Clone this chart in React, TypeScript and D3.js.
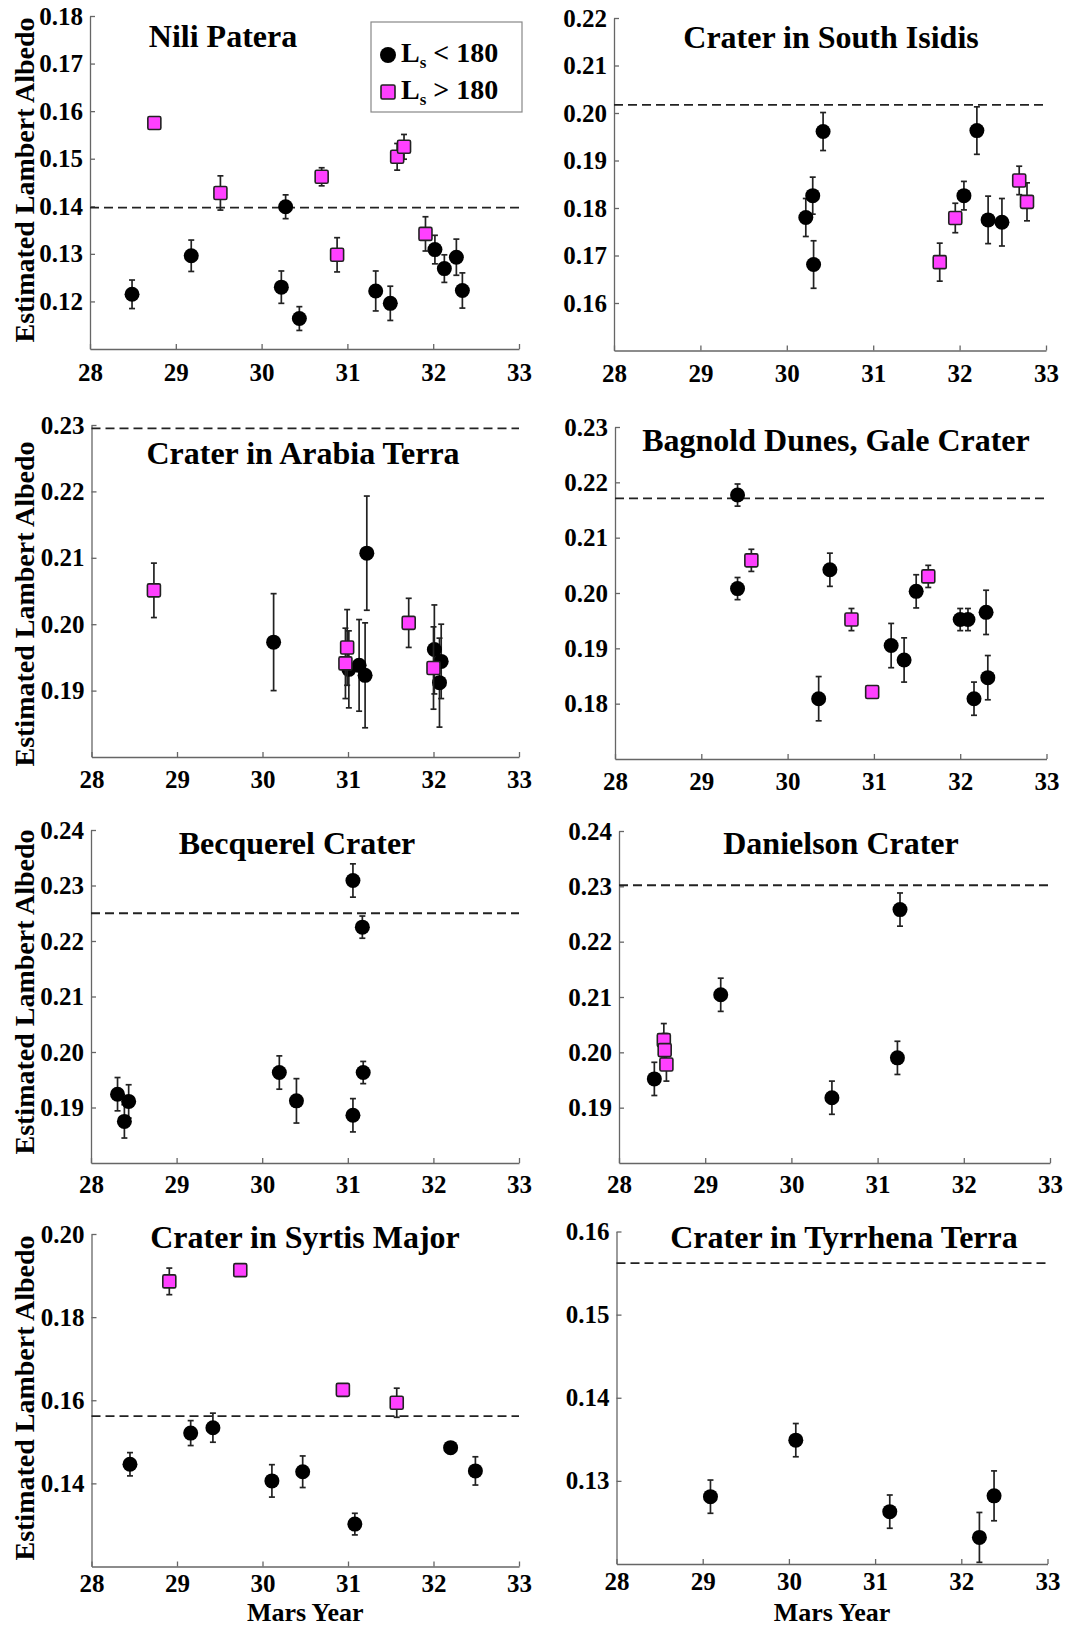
import React, { useEffect, useRef } from "react";
import * as d3 from "d3";

type Pt = [number, number, number]; // [mars year, albedo, error]

const FONT = "'Liberation Serif', 'Times New Roman', serif";

const years = [28, 29, 30, 31, 32, 33];

// Nili Patera
const niliLow: Pt[] = [
  [28.49, 0.1215, 0.003],
  [29.18, 0.1296, 0.0033],
  [30.23, 0.123, 0.0034],
  [30.28, 0.1399, 0.0025],
  [30.44, 0.1164, 0.0025],
  [31.33, 0.1222, 0.0042],
  [31.5, 0.1196, 0.0036],
  [32.02, 0.1309, 0.003],
  [32.13, 0.1269, 0.0029],
  [32.27, 0.1293, 0.0038],
  [32.34, 0.1223, 0.0037],
];
const niliHigh: Pt[] = [
  [28.75, 0.1575, 0.0008],
  [29.52, 0.1428, 0.0036],
  [30.7, 0.1462, 0.0019],
  [30.88, 0.1298, 0.0036],
  [31.58, 0.1504, 0.0028],
  [31.66, 0.1525, 0.0026],
  [31.91, 0.1342, 0.0036],
];

// Crater in South Isidis
const isidisLow: Pt[] = [
  [30.22, 0.178, 0.004],
  [30.3, 0.1826, 0.0039],
  [30.31, 0.1681, 0.005],
  [30.42, 0.1961, 0.004],
  [32.05, 0.1826, 0.003],
  [32.2, 0.1963, 0.005],
  [32.33, 0.1775, 0.005],
  [32.49, 0.177, 0.005],
];
const isidisHigh: Pt[] = [
  [31.77, 0.1686, 0.004],
  [31.95, 0.1779, 0.0031],
  [32.69, 0.1858, 0.003],
  [32.78, 0.1813, 0.004],
];

// Crater in Arabia Terra
const arabiaLow: Pt[] = [
  [30.13, 0.1973, 0.0073],
  [31.01, 0.1932, 0.0058],
  [31.13, 0.1938, 0.0069],
  [31.2, 0.1923, 0.0079],
  [31.22, 0.2107, 0.0086],
  [32.01, 0.1962, 0.0067],
  [32.09, 0.1944, 0.0056],
  [32.07, 0.1912, 0.0067],
];
const arabiaHigh: Pt[] = [
  [28.73, 0.2051, 0.0041],
  [30.99, 0.1965, 0.0057],
  [30.97, 0.1941, 0.0053],
  [31.71, 0.2002, 0.0037],
  [32.0, 0.1934, 0.0062],
];

// Bagnold Dunes, Gale Crater
const bagnoldLow: Pt[] = [
  [29.42, 0.2177, 0.002],
  [29.42, 0.2008, 0.002],
  [30.36, 0.1809, 0.004],
  [30.49, 0.2042, 0.003],
  [31.2, 0.1905, 0.004],
  [31.35, 0.1879, 0.004],
  [31.49, 0.2003, 0.003],
  [32.0, 0.1952, 0.002],
  [32.09, 0.1952, 0.002],
  [32.16, 0.1809, 0.003],
  [32.3, 0.1965, 0.004],
  [32.32, 0.1847, 0.004],
];
const bagnoldHigh: Pt[] = [
  [29.58, 0.2059, 0.002],
  [30.74, 0.1952, 0.002],
  [30.98, 0.1821, 0.0004],
  [31.63, 0.203, 0.002],
];

// Becquerel Crater
const becquerelLow: Pt[] = [
  [28.31, 0.1924, 0.003],
  [28.44, 0.1911, 0.003],
  [28.39, 0.1875, 0.003],
  [30.2, 0.1963, 0.003],
  [30.4, 0.1912, 0.004],
  [31.06, 0.1886, 0.003],
  [31.06, 0.2309, 0.003],
  [31.17, 0.2225, 0.002],
  [31.18, 0.1963, 0.002],
];
const becquerelHigh: Pt[] = [];

// Danielson Crater
const danielsonLow: Pt[] = [
  [28.41, 0.1952, 0.003],
  [29.18, 0.2104, 0.003],
  [30.47, 0.1918, 0.003],
  [31.23, 0.199, 0.003],
  [31.26, 0.2258, 0.003],
];
const danielsonHigh: Pt[] = [
  [28.52, 0.2022, 0.003],
  [28.53, 0.2004, 0.003],
  [28.55, 0.1978, 0.003],
];

// Crater in Syrtis Major
const syrtisLow: Pt[] = [
  [28.45, 0.1446, 0.0028],
  [29.16, 0.1521, 0.003],
  [29.42, 0.1534, 0.0035],
  [30.11, 0.1406, 0.0039],
  [30.47, 0.1428, 0.0038],
  [31.08, 0.1302, 0.0026],
  [32.2, 0.1486, 0.0005],
  [32.49, 0.143, 0.0034],
];
const syrtisHigh: Pt[] = [
  [28.91, 0.1886, 0.0032],
  [29.74, 0.1913, 0.0005],
  [30.94, 0.1625, 0.0005],
  [31.57, 0.1594, 0.0035],
];

// Crater in Tyrrhena Terra
const tyrrhenaLow: Pt[] = [
  [29.09, 0.1281, 0.002],
  [30.08, 0.1349, 0.002],
  [31.17, 0.1263, 0.002],
  [32.21, 0.1232, 0.003],
  [32.38, 0.1282, 0.003],
];
const tyrrhenaHigh: Pt[] = [];

const titles = [
  "Nili Patera",
  "Crater in South Isidis",
  "Crater in Arabia Terra",
  "Bagnold Dunes, Gale Crater",
  "Becquerel Crater",
  "Danielson Crater",
  "Crater in Syrtis Major",
  "Crater in Tyrrhena Terra",
];
const lowSeries = [niliLow, isidisLow, arabiaLow, bagnoldLow, becquerelLow, danielsonLow, syrtisLow, tyrrhenaLow];
const highSeries = [niliHigh, isidisHigh, arabiaHigh, bagnoldHigh, becquerelHigh, danielsonHigh, syrtisHigh, tyrrhenaHigh];
const refLevels = [0.1397, 0.2017, 0.2295, 0.2171, 0.225, 0.2302, 0.1562, 0.1562];
const yDomains = [
  [0.11, 0.18],
  [0.15, 0.22],
  [0.18, 0.23],
  [0.17, 0.23],
  [0.18, 0.24],
  [0.18, 0.24],
  [0.12, 0.2],
  [0.12, 0.16],
];
const yTicks = [
  [0.12, 0.13, 0.14, 0.15, 0.16, 0.17, 0.18],
  [0.16, 0.17, 0.18, 0.19, 0.2, 0.21, 0.22],
  [0.19, 0.2, 0.21, 0.22, 0.23],
  [0.18, 0.19, 0.2, 0.21, 0.22, 0.23],
  [0.19, 0.2, 0.21, 0.22, 0.23, 0.24],
  [0.19, 0.2, 0.21, 0.22, 0.23, 0.24],
  [0.14, 0.16, 0.18, 0.2],
  [0.13, 0.14, 0.15, 0.16],
];

// pixel layout of each panel
const layout = [
  { left: 90, right: 519, top: 16, bottom: 349, tx: 223, ty: 47, ly: 180, xPad: 14 },
  { left: 614, right: 1046, top: 18, bottom: 350.5, tx: 831, ty: 48, ly: 0, xPad: 14 },
  { left: 91.5, right: 519, top: 425, bottom: 757, tx: 303, ty: 464, ly: 604, xPad: 13 },
  { left: 615, right: 1046.5, top: 427, bottom: 759, tx: 836, ty: 451, ly: 0, xPad: 13 },
  { left: 91, right: 519, top: 830, bottom: 1163, tx: 297, ty: 854, ly: 992, xPad: 12 },
  { left: 619, right: 1050, top: 831, bottom: 1163, tx: 841, ty: 854, ly: 0, xPad: 12 },
  { left: 91.5, right: 519, top: 1234, bottom: 1566.5, tx: 305, ty: 1248, ly: 1398, xPad: 8 },
  { left: 616.5, right: 1047.5, top: 1231.5, bottom: 1564, tx: 844, ty: 1248, ly: 0, xPad: 8 },
];

const MAGENTA = "#ff40ff";

const Chart = () => {
  const chartEl = useRef<SVGSVGElement>(null);

  useEffect(() => {
    const svg = d3.select(chartEl.current);
    svg.selectAll("*").remove();

    titles.forEach((title, i) => {
      const L = layout[i];
      const x = d3.scaleLinear().domain([28, 33]).range([L.left, L.right]);
      const y = d3.scaleLinear().domain(yDomains[i]).range([L.bottom, L.top]);
      const g = svg.append("g");

      const xa = g
        .append("g")
        .attr("transform", "translate(0," + L.bottom + ")")
        .call(
          d3
            .axisBottom(x)
            .tickValues(years)
            .tickFormat(d3.format("d"))
            .tickSizeInner(-5)
            .tickSizeOuter(0)
            .tickPadding(L.xPad)
        );
      const ya = g
        .append("g")
        .attr("transform", "translate(" + L.left + ",0)")
        .call(
          d3
            .axisLeft(y)
            .tickValues(yTicks[i])
            .tickFormat(d3.format(".2f"))
            .tickSizeInner(-5)
            .tickSizeOuter(0)
            .tickPadding(7)
        );
      [xa, ya].forEach((a) => {
        a.attr("font-family", FONT).attr("font-size", 25).attr("font-weight", "bold");
        a.selectAll("path.domain").attr("stroke", "#666").attr("stroke-width", 1.3);
        a.selectAll("line").attr("stroke", "#666").attr("stroke-width", 1.3);
        a.selectAll("text").attr("fill", "#000");
      });

      // reference level
      g.append("line")
        .attr("x1", x(28))
        .attr("x2", x(33))
        .attr("y1", y(refLevels[i]))
        .attr("y2", y(refLevels[i]))
        .attr("stroke", "#222")
        .attr("stroke-width", 1.8)
        .attr("stroke-dasharray", "9,5");

      const drawErr = (data: Pt[]) => {
        const eb = g.selectAll(null).data(data).enter().append("g").attr("stroke", "#222").attr("stroke-width", 1.7);
        eb.append("line")
          .attr("x1", (d) => x(d[0]))
          .attr("x2", (d) => x(d[0]))
          .attr("y1", (d) => y(d[1] - d[2]))
          .attr("y2", (d) => y(d[1] + d[2]));
        eb.append("line")
          .attr("x1", (d) => x(d[0]) - 3)
          .attr("x2", (d) => x(d[0]) + 3)
          .attr("y1", (d) => y(d[1] + d[2]))
          .attr("y2", (d) => y(d[1] + d[2]));
        eb.append("line")
          .attr("x1", (d) => x(d[0]) - 3)
          .attr("x2", (d) => x(d[0]) + 3)
          .attr("y1", (d) => y(d[1] - d[2]))
          .attr("y2", (d) => y(d[1] - d[2]));
      };

      drawErr(lowSeries[i]);
      g.selectAll(null)
        .data(lowSeries[i])
        .enter()
        .append("circle")
        .attr("cx", (d) => x(d[0]))
        .attr("cy", (d) => y(d[1]))
        .attr("r", 7.5)
        .attr("fill", "#000");

      drawErr(highSeries[i]);
      g.selectAll(null)
        .data(highSeries[i])
        .enter()
        .append("rect")
        .attr("x", (d) => x(d[0]) - 6.5)
        .attr("y", (d) => y(d[1]) - 6.5)
        .attr("width", 13)
        .attr("height", 13)
        .attr("rx", 1.5)
        .attr("fill", MAGENTA)
        .attr("stroke", "#222")
        .attr("stroke-width", 1.6);

      g.append("text")
        .attr("x", L.tx)
        .attr("y", L.ty)
        .attr("text-anchor", "middle")
        .attr("font-family", FONT)
        .attr("font-weight", "bold")
        .attr("font-size", 32)
        .text(title);

      if (i % 2 === 0) {
        g.append("text")
          .attr("transform", "translate(34," + L.ly + ") rotate(-90)")
          .attr("text-anchor", "middle")
          .attr("font-family", FONT)
          .attr("font-weight", "bold")
          .attr("font-size", 28)
          .text("Estimated Lambert Albedo");
      }
      if (i >= 6) {
        g.append("text")
          .attr("x", (L.left + L.right) / 2)
          .attr("y", 1621)
          .attr("text-anchor", "middle")
          .attr("font-family", FONT)
          .attr("font-weight", "bold")
          .attr("font-size", 26)
          .text("Mars Year");
      }
    });

    // legend (first panel)
    const lg = svg.append("g");
    lg.append("rect")
      .attr("x", 371)
      .attr("y", 22)
      .attr("width", 151)
      .attr("height", 90)
      .attr("fill", "#fff")
      .attr("stroke", "#888")
      .attr("stroke-width", 1.2);
    lg.append("circle").attr("cx", 388).attr("cy", 55).attr("r", 8).attr("fill", "#000");
    lg.append("rect")
      .attr("x", 381)
      .attr("y", 85)
      .attr("width", 14)
      .attr("height", 14)
      .attr("rx", 1.5)
      .attr("fill", MAGENTA)
      .attr("stroke", "#222")
      .attr("stroke-width", 1.6);
    const entries = [
      { y: 62, op: " < 180" },
      { y: 99, op: " > 180" },
    ];
    entries.forEach((e) => {
      const t = lg
        .append("text")
        .attr("x", 401)
        .attr("y", e.y)
        .attr("font-family", FONT)
        .attr("font-weight", "bold")
        .attr("font-size", 28);
      t.append("tspan").text("L");
      t.append("tspan").attr("font-size", 17).attr("dy", 6).text("s");
      t.append("tspan").attr("dy", -6).text(e.op);
    });
  }, [chartEl]);

  return <svg ref={chartEl} width={1081} height={1627} style={{ position: "absolute", left: 0, top: 0, background: "#fff" }}></svg>;
};

export default function App() {
  return <Chart />;
}
